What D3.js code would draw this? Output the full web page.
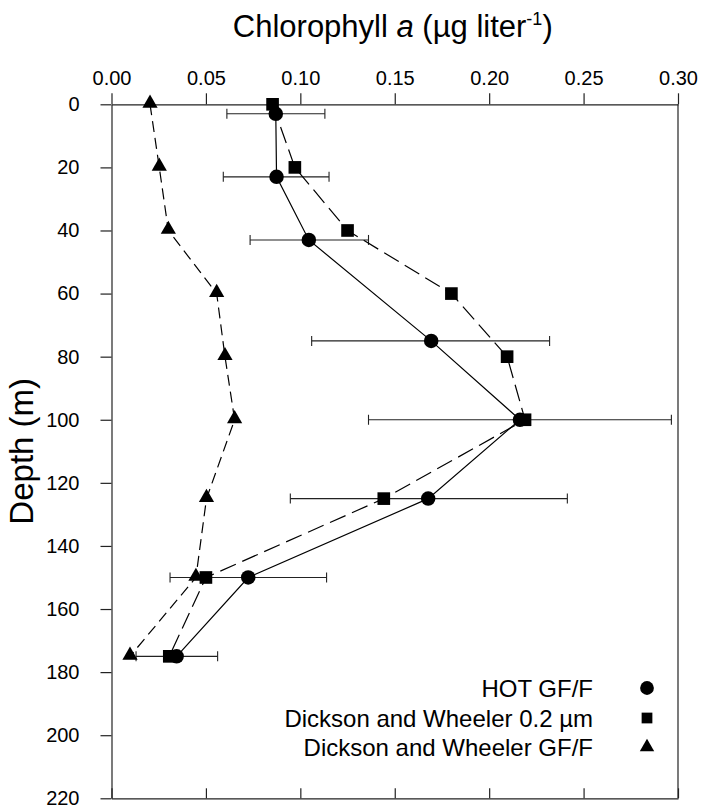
<!DOCTYPE html>
<html>
<head>
<meta charset="utf-8">
<script src="https://cdn.jsdelivr.net/npm/d3@7"></script>
<style>
  body { margin: 0; background: #fff; }
  text { font-family: Arial, "Liberation Sans", Helvetica, sans-serif; fill: #000; }
</style>
</head>
<body>
<div id="chart"></div>
<script>
// HOT GF/F (circles, solid line, with error bars)
var hotDepth = [3, 23, 43, 75, 100, 125, 150, 175];
var hotChl   = [0.087, 0.0874, 0.1045, 0.1693, 0.2163, 0.1677, 0.0724, 0.0345];
var hotLo    = [0.0611, 0.0592, 0.0734, 0.106, 0.1361, 0.0947, 0.031, 0.013];
var hotHi    = [0.113, 0.1152, 0.1361, 0.232, 0.2965, 0.2414, 0.1139, 0.0562];

// Dickson and Wheeler
var dwDepth  = [0, 20, 40, 60, 80, 100, 125, 150, 175];
var dw02     = [0.0853, 0.0971, 0.125, 0.180, 0.2095, 0.219, 0.1442, 0.050, 0.0306];
var dwGFF    = [0.0204, 0.0253, 0.0301, 0.0557, 0.0601, 0.0652, 0.0503, 0.0447, 0.0098];

var xTicks = [0, 0.05, 0.10, 0.15, 0.20, 0.25, 0.30];
var yTicks = [0, 20, 40, 60, 80, 100, 120, 140, 160, 180, 200, 220];
var legendLabels = ["HOT GF/F", "Dickson and Wheeler 0.2 \u00b5m", "Dickson and Wheeler GF/F"];

var W = 701, H = 806;
var plotL = 111.5, plotR = 678, plotT = 104.3, plotB = 798.3;

var svg = d3.select("#chart").append("svg")
  .attr("width", W)
  .attr("height", H);

var x = d3.scaleLinear().domain([0, 0.30]).range([plotL, plotR]);
var y = d3.scaleLinear().domain([0, 220]).range([plotT, plotB]);

// axes
var topAxis = d3.axisTop(x).tickValues(xTicks).tickFormat(d3.format(".2f"))
  .tickSize(11).tickSizeOuter(0).tickPadding(8);
var gTop = svg.append("g").attr("transform", "translate(0," + plotT + ")").call(topAxis);
gTop.selectAll("text").style("font-size", "20px");

var leftAxis = d3.axisLeft(y).tickValues(yTicks).tickFormat(d3.format("d"))
  .tickSize(11).tickSizeOuter(0).tickPadding(21);
var gLeft = svg.append("g").attr("transform", "translate(" + plotL + ",0)").call(leftAxis);
gLeft.selectAll("text").style("font-size", "20px");

var bottomAxis = d3.axisTop(x).tickValues(xTicks).tickFormat("")
  .tickSize(10).tickSizeOuter(0);
svg.append("g").attr("transform", "translate(0," + plotB + ")").call(bottomAxis);

svg.append("line")
  .attr("x1", plotR).attr("x2", plotR)
  .attr("y1", plotT).attr("y2", plotB);

svg.selectAll("g").attr("font-family", null);
svg.selectAll(".domain, .tick line, line")
  .attr("stroke", "#222").attr("stroke-width", 1.2);

// titles
var title = svg.append("text")
  .attr("x", (plotL + plotR) / 2 - 2)
  .attr("y", 37)
  .attr("text-anchor", "middle")
  .style("font-size", "31px");
title.append("tspan").text("Chlorophyll ");
title.append("tspan").style("font-style", "italic").text("a");
title.append("tspan").text(" (\u00b5g liter");
title.append("tspan").attr("dy", -12).style("font-size", "18px").text("-1");
title.append("tspan").attr("dy", 12).text(")");

svg.append("text")
  .attr("transform", "translate(33," + ((plotT + plotB) / 2) + ") rotate(-90)")
  .attr("text-anchor", "middle")
  .style("font-size", "33px")
  .text("Depth (m)");

var line = d3.line().x(d => x(d[0])).y(d => y(d[1]));

var hotPts = hotDepth.map((d, i) => [hotChl[i], d]);
var sqPts = dwDepth.map((d, i) => [dw02[i], d]);
var triPts = dwDepth.map((d, i) => [dwGFF[i], d]);

// error bars
var eb = svg.append("g").attr("stroke", "#222").attr("stroke-width", 1.1);
hotDepth.forEach(function (d, i) {
  eb.append("line").attr("x1", x(hotLo[i])).attr("x2", x(hotHi[i]))
    .attr("y1", y(d)).attr("y2", y(d));
  [hotLo[i], hotHi[i]].forEach(function (v) {
    eb.append("line").attr("x1", x(v)).attr("x2", x(v))
      .attr("y1", y(d) - 5).attr("y2", y(d) + 5);
  });
});

// lines
svg.append("path").attr("d", line(triPts)).attr("fill", "none")
  .attr("stroke", "#000").attr("stroke-width", 1.2).attr("stroke-dasharray", "11 6");
svg.append("path").attr("d", line(sqPts)).attr("fill", "none")
  .attr("stroke", "#000").attr("stroke-width", 1.2).attr("stroke-dasharray", "17 7");
svg.append("path").attr("d", line(hotPts)).attr("fill", "none")
  .attr("stroke", "#000").attr("stroke-width", 1.2);

// markers
var triSym = d3.symbol().type(d3.symbolTriangle).size(100);
var sqSym = d3.symbol().type(d3.symbolSquare).size(160);
var cirSym = d3.symbol().type(d3.symbolCircle).size(165);

svg.append("g").selectAll("path").data(triPts).enter().append("path")
  .attr("d", triSym).attr("transform", d => "translate(" + x(d[0]) + "," + (y(d[1]) - 1) + ")");
svg.append("g").selectAll("path").data(sqPts).enter().append("path")
  .attr("d", sqSym).attr("transform", d => "translate(" + x(d[0]) + "," + y(d[1]) + ")");
svg.append("g").selectAll("path").data(hotPts).enter().append("path")
  .attr("d", cirSym).attr("transform", d => "translate(" + x(d[0]) + "," + y(d[1]) + ")");

// legend
var legSyms = [cirSym, sqSym, triSym];
var legY = [688, 718, 747];
legendLabels.forEach(function (t, i) {
  svg.append("text").attr("x", 593).attr("y", legY[i] + 9)
    .attr("text-anchor", "end").style("font-size", "24px").text(t);
  svg.append("path").attr("d", legSyms[i])
    .attr("transform", "translate(647," + legY[i] + ") scale(" + (i === 1 ? 0.85 : 0.95) + ")");
});
</script>
</body>
</html>
